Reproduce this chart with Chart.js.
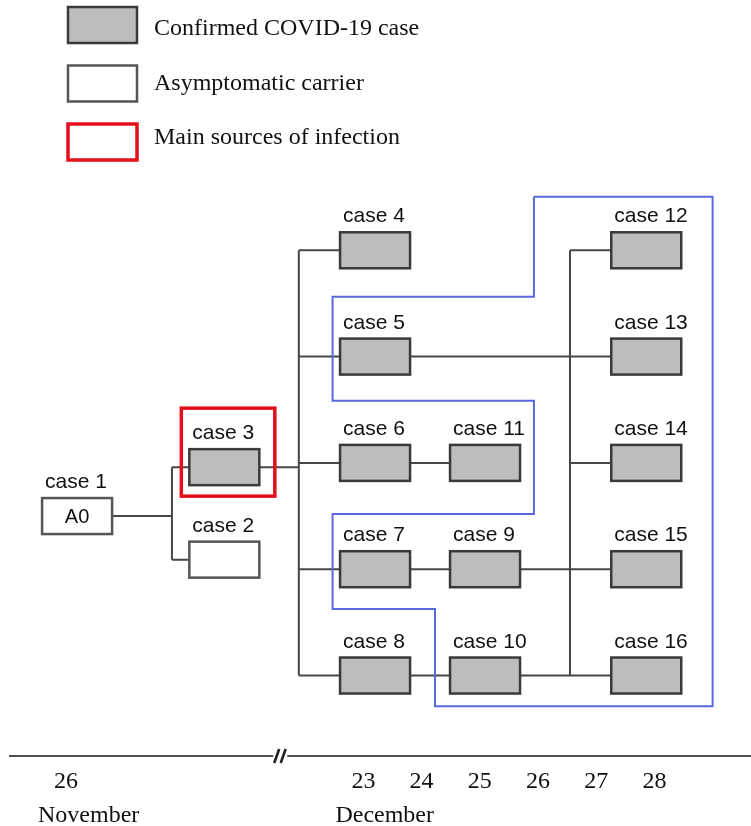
<!DOCTYPE html>
<html lang="en">
<head>
  <meta charset="UTF-8">
  <title>COVID-19 transmission chain</title>
  <script src="https://cdn.jsdelivr.net/npm/chart.js"></script>
  <style>
    html, body { margin: 0; padding: 0; background: #fff; }
    .wrap { position: relative; width: 751px; height: 826px; }
  </style>
</head>
<body>
<div class="wrap"><canvas id="chain"></canvas></div>
<script>
  // Cases: place on the timeline (December day, Nov 26 squeezed in before the break) and row
  const caseNames = ['case 1', 'case 2', 'case 3', 'case 4', 'case 5', 'case 6', 'case 7', 'case 8',
                     'case 9', 'case 10', 'case 11', 'case 12', 'case 13', 'case 14', 'case 15', 'case 16'];
  const caseDay = [18.08, 20.61, 20.61, 23.2, 23.2, 23.2, 23.2, 23.2,
                   25.09, 25.09, 25.09, 27.86, 27.86, 27.86, 27.86, 27.86];
  const caseRow = [2.5, 2.91, 2.04, 0, 1, 2, 3, 4, 3, 4, 2, 0, 1, 2, 3, 4];
  const caseType = ['carrier', 'carrier', 'confirmed', 'confirmed', 'confirmed', 'confirmed', 'confirmed', 'confirmed',
                    'confirmed', 'confirmed', 'confirmed', 'confirmed', 'confirmed', 'confirmed', 'confirmed', 'confirmed'];
  const caseInner = ['A0'];
  const mainSources = ['case 3'];

  // Who infected whom
  const pairLinks = [['case 6', 'case 11'], ['case 7', 'case 9'], ['case 8', 'case 10']];
  const busAt = [19.71, 21.89, 26.55];
  const busFrom = [['case 1'], ['case 3'], ['case 5', 'case 9', 'case 10']];
  const busTo = [['case 2', 'case 3'],
                 ['case 4', 'case 5', 'case 6', 'case 7', 'case 8'],
                 ['case 12', 'case 13', 'case 14', 'case 15', 'case 16']];

  // Blue cluster outline
  const clusterX = [25.93, 29.0, 29.0, 24.23, 24.23, 22.47, 22.47, 25.93, 25.93, 22.47, 22.47, 25.93, 25.93];
  const clusterY = [-0.504, -0.504, 4.288, 4.288, 3.375, 3.375, 2.481, 2.481, 1.415, 1.415, 0.436, 0.436, -0.504];

  // Time axis
  const tickDays = [17.89, 23, 24, 25, 26, 27, 28];
  const tickLabels = ['26', '23', '24', '25', '26', '27', '28'];
  const monthNames = ['November', 'December'];
  const monthFirstTick = [0, 1];
  const breakAt = 21.57;

  const legendLabels = ['Confirmed COVID-19 case', 'Asymptomatic carrier', 'Main sources of infection'];
  const legendKinds = ['confirmed', 'carrier', 'source'];

  const SERIF = '"Liberation Serif", "Times New Roman", serif';
  const SANS = '"Liberation Sans", Arial, sans-serif';

  const idx = name => caseNames.indexOf(name);
  const pt = (x, y) => ({ x: x, y: y });

  // connector polylines, centre to centre (boxes are painted over them)
  var links = [];
  pairLinks.forEach(function (p) {
    var a = idx(p[0]), b = idx(p[1]);
    links.push([pt(caseDay[a], caseRow[a]), pt(caseDay[b], caseRow[b])]);
  });
  busAt.forEach(function (bx, k) {
    var members = busFrom[k].concat(busTo[k]).map(idx);
    var rows = members.map(i => caseRow[i]);
    links.push([pt(bx, Math.min.apply(null, rows)), pt(bx, Math.max.apply(null, rows))]);
    members.forEach(function (i) {
      links.push([pt(caseDay[i], caseRow[i]), pt(bx, caseRow[i])]);
    });
  });

  var datasets = [{
    data: clusterX.map((x, i) => pt(x, clusterY[i])),
    showLine: true,
    borderColor: '#5a68df',
    borderWidth: 2
  }].concat(links.map(d => ({
    data: d,
    showLine: true,
    borderColor: '#474747',
    borderWidth: 2
  })));

  function drawBox(ctx, kind, left, top, w, h) {
    ctx.save();
    if (kind === 'source') {
      ctx.strokeStyle = '#e3101a';
      ctx.lineWidth = 3.5;
      ctx.strokeRect(left, top, w, h);
    } else {
      ctx.fillStyle = kind === 'confirmed' ? '#bdbdbd' : '#ffffff';
      ctx.strokeStyle = kind === 'confirmed' ? '#3a3a3a' : '#555555';
      ctx.lineWidth = 2.5;
      ctx.fillRect(left, top, w, h);
      ctx.strokeRect(left, top, w, h);
    }
    ctx.restore();
  }

  const diagram = {
    id: 'diagram',
    afterDatasetsDraw(chart) {
      const ctx = chart.ctx, x = chart.scales.x, y = chart.scales.y;
      caseNames.forEach(function (name, i) {
        const cx = x.getPixelForValue(caseDay[i]);
        const cy = y.getPixelForValue(caseRow[i]);
        drawBox(ctx, caseType[i], cx - 35, cy - 18, 70, 36);
        ctx.save();
        ctx.fillStyle = '#111';
        ctx.font = '21px ' + SANS;
        ctx.textAlign = 'left';
        ctx.textBaseline = 'alphabetic';
        ctx.fillText(name, cx - 32, cy - 28);
        if (caseInner[i]) {
          ctx.font = '20px ' + SANS;
          ctx.textAlign = 'center';
          ctx.textBaseline = 'middle';
          ctx.fillText(caseInner[i], cx, cy + 1);
        }
        ctx.restore();
        if (mainSources.includes(name)) {
          drawBox(ctx, 'source', cx - 43, cy - 59, 93.5, 88);
        }
      });
    },
    afterDraw(chart) {
      const ctx = chart.ctx, x = chart.scales.x, area = chart.chartArea;
      const yb = area.bottom, bx = x.getPixelForValue(breakAt);
      ctx.save();
      // axis line
      ctx.strokeStyle = '#505050';
      ctx.lineWidth = 2;
      ctx.beginPath();
      ctx.moveTo(area.left, yb); ctx.lineTo(bx - 7, yb);
      ctx.moveTo(bx + 7, yb); ctx.lineTo(area.right, yb);
      ctx.stroke();
      // break mark //
      ctx.strokeStyle = '#222';
      ctx.lineWidth = 2.6;
      ctx.beginPath();
      [-3.5, 3].forEach(function (dx) {
        ctx.moveTo(bx + dx - 2.5, yb + 7);
        ctx.lineTo(bx + dx + 2.5, yb - 7);
      });
      ctx.stroke();
      // month names
      ctx.fillStyle = '#111';
      ctx.font = '24px ' + SERIF;
      ctx.textAlign = 'left';
      ctx.textBaseline = 'alphabetic';
      monthNames.forEach(function (m, i) {
        ctx.fillText(m, x.getPixelForValue(tickDays[monthFirstTick[i]]) - 28, yb + 66);
      });
      // legend
      legendLabels.forEach(function (label, i) {
        drawBox(ctx, legendKinds[i], 68, 7 + i * 58.5, 69, 36);
        ctx.fillStyle = '#111';
        ctx.font = '24px ' + SERIF;
        ctx.fillText(label, 154, 35 + i * 54.5);
      });
      ctx.restore();
    }
  };

  new Chart(document.getElementById('chain'), {
    type: 'scatter',
    data: { datasets: datasets },
    options: {
      responsive: true,
      maintainAspectRatio: false,
      animation: false,
      events: [],
      layout: { padding: { top: 190, left: 9, right: 0, bottom: 0 } },
      elements: { point: { radius: 0 }, line: { tension: 0 } },
      plugins: { legend: { display: false }, tooltip: { enabled: false } },
      scales: {
        x: {
          type: 'linear',
          position: 'bottom',
          min: 16.91,
          max: 29.66,
          grid: { display: false, drawTicks: false },
          border: { display: false },
          afterBuildTicks: s => { s.ticks = tickDays.map(v => ({ value: v })); },
          afterFit: s => { s.height = 70; },
          ticks: {
            autoSkip: false,
            maxRotation: 0,
            padding: 11,
            color: '#111',
            font: { family: SERIF, size: 24 },
            callback: (v, i) => tickLabels[i]
          }
        },
        y: {
          type: 'linear',
          display: false,
          reverse: true,
          min: -0.567,
          max: 4.757
        }
      }
    },
    plugins: [diagram]
  });
</script>
</body>
</html>
